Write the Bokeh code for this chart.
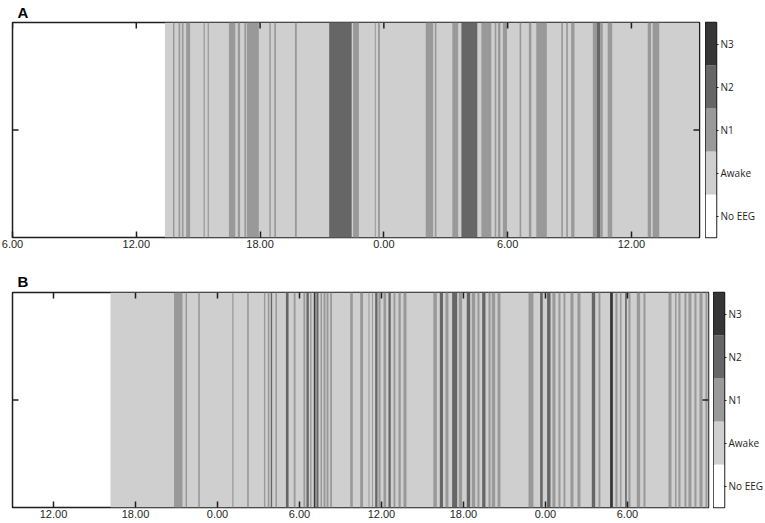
import math
from bokeh.plotting import figure
from bokeh.layouts import column, row
from bokeh.models import Range1d, FixedTicker, LinearAxis, ColumnDataSource
from bokeh.embed import file_html
from bokeh.resources import INLINE

# ---------------- data ----------------
STAGES = ["No EEG", "Awake", "N1", "N2", "N3"]
STAGE_COLORS = ["#ffffff", "#cfcfcf", "#999999", "#666666", "#363636"]

# Panel A (clock hours, continuous from day start)
A_X_RANGE = [6.0, 39.3]
A_TICKS = [6, 12, 18, 24, 30, 36]
A_TICK_LABELS = ["6.00", "12.00", "18.00", "0.00", "6.00", "12.00"]
A_RECORDING = [13.39, 39.26]          # EEG recorded (Awake baseline)
A_START = [13.78, 14.05, 14.21, 14.42, 15.26, 15.46, 16.49, 16.92, 17.24, 17.36,
           18.45, 18.69, 19.69, 21.35, 22.51, 23.56, 23.72, 26.03, 26.47, 27.32,
           27.76, 28.73, 29.37, 29.53, 29.77, 30.58, 31.03, 31.39, 32.60, 32.84,
           33.08, 34.13, 34.32, 34.49, 34.85, 36.79, 37.03]
A_END = [13.85, 14.13, 14.29, 14.61, 15.32, 15.52, 16.80, 17.03, 17.32, 17.94,
         18.52, 18.77, 19.78, 22.44, 22.79, 23.61, 23.81, 26.39, 26.55, 27.60,
         28.53, 29.21, 29.45, 29.65, 29.97, 30.66, 31.15, 31.90, 32.68, 32.92,
         33.24, 34.32, 34.49, 34.61, 35.07, 36.95, 37.35]
A_STAGE = ["N1", "N1", "N1", "N1", "N1", "N1", "N1", "N1", "N1", "N1",
           "N1", "N1", "N1", "N2", "N1", "N1", "N1", "N1", "N1", "N1",
           "N2", "N1", "N1", "N1", "N1", "N1", "N1", "N1", "N1", "N1",
           "N1", "N1", "N2", "N1", "N1", "N1", "N1"]

# Panel B
B_X_RANGE = [9.0, 59.93]
B_TICKS = [12, 18, 24, 30, 36, 42, 48, 54]
B_TICK_LABELS = ["12.00", "18.00", "0.00", "6.00", "12.00", "18.00", "0.00", "6.00"]
B_RECORDING = [16.17, 59.93]
B_START = [20.82, 21.66, 22.59, 25.08, 26.17, 27.40, 27.68, 27.90, 28.24, 29.01,
           29.58, 30.29, 30.51, 30.78, 31.05, 31.24, 31.54, 31.76, 31.98, 32.25,
           33.71, 34.44, 35.05, 35.31, 35.54, 35.78, 36.15, 36.51, 36.88, 37.24,
           37.61, 39.80, 40.27, 40.68, 41.17, 41.66, 42.24, 42.61, 43.02, 43.37,
           43.83, 44.07, 44.49, 46.76, 47.61, 48.12, 48.51, 48.95, 49.32, 49.83,
           50.34, 51.39, 51.88, 52.73, 53.12, 53.45, 53.83, 54.07, 54.68, 55.17,
           57.00, 57.48, 57.73, 58.17, 58.46, 58.90, 59.27, 59.71]
B_END = [21.44, 21.77, 22.71, 25.17, 26.29, 27.50, 27.80, 28.00, 28.35, 29.20,
         29.71, 30.42, 30.68, 30.88, 31.17, 31.39, 31.65, 31.90, 32.12, 32.38,
         33.90, 34.65, 35.12, 35.38, 35.71, 35.93, 36.34, 36.68, 37.02, 37.41,
         37.83, 40.05, 40.50, 40.90, 41.54, 41.90, 42.49, 42.86, 43.17, 43.61,
         43.98, 44.32, 44.71, 47.12, 47.80, 48.37, 48.73, 49.10, 49.46, 50.05,
         50.56, 51.64, 52.02, 52.93, 53.27, 53.56, 53.95, 54.22, 54.93, 55.32,
         57.22, 57.59, 57.88, 58.32, 58.68, 59.05, 59.49, 59.85]
B_STAGE = ["N1", "N1", "N1", "N1", "N1", "N1", "N1", "N2", "N1", "N2",
           "N1", "N1", "N2", "N1", "N3", "N2", "N1", "N1", "N1", "N1",
           "N1", "N1", "N1", "N1", "N2", "N1", "N1", "N2", "N1", "N1",
           "N1", "N1", "N2", "N1", "N2", "N1", "N2", "N1", "N1", "N2",
           "N1", "N1", "N1", "N1", "N2", "N2", "N1", "N1", "N1", "N1",
           "N1", "N2", "N1", "N3", "N1", "N1", "N2", "N1", "N1", "N1",
           "N1", "N1", "N1", "N1", "N1", "N1", "N1", "N1"]

INK = "#1e1e1e"
TICK_LEN = 6


def make_panel(letter, letter_standoff, xr, ticks, tick_labels, rec, starts, ends, stages,
               frame_w, frame_h, b_left, b_top, b_bottom, b_right):
    p = figure(frame_width=frame_w, frame_height=frame_h,
               x_range=Range1d(*xr), y_range=Range1d(0, 1),
               x_axis_location=None, y_axis_location=None,
               output_backend="svg", toolbar_location=None,
               min_border_left=b_left, min_border_right=b_right,
               min_border_top=b_top, min_border_bottom=b_bottom,
               title=letter)
    p.title.text_font = "Liberation Sans"
    p.title.text_font_style = "bold"
    p.title.text_font_size = "15px"
    p.title.text_color = "black"
    p.title.align = "left"
    p.title.offset = 5
    p.title.standoff = letter_standoff
    p.xgrid.visible = False
    p.ygrid.visible = False
    p.outline_line_color = INK
    p.outline_line_width = 1.5
    p.outline_line_alpha = 1.0
    p.background_fill_color = "white"
    p.border_fill_color = "white"

    # recorded period (Awake baseline)
    p.quad(left=[rec[0]], right=[rec[1]], bottom=0, top=1,
           fill_color=STAGE_COLORS[1], line_color=None)
    src = ColumnDataSource(dict(left=starts, right=ends,
                                color=[STAGE_COLORS[STAGES.index(s)] for s in stages]))
    p.quad(left="left", right="right", bottom=0, top=1, source=src,
           fill_color="color", line_color=None)

    # bottom axis with inward ticks
    bx = LinearAxis(ticker=FixedTicker(ticks=ticks),
                    major_label_overrides={t: l for t, l in zip(ticks, tick_labels)})
    bx.axis_line_color = None
    bx.major_tick_in = TICK_LEN
    bx.major_tick_out = 0
    bx.major_tick_line_color = INK
    bx.major_tick_line_width = 1.5
    bx.minor_tick_line_color = None
    bx.major_label_text_font = "Liberation Sans"
    bx.major_label_text_font_size = "11px"
    bx.major_label_text_color = INK
    bx.major_label_standoff = 2
    p.add_layout(bx, "below")

    # inward ticks on top, left and right edges
    p.ray(x=ticks, y=[1] * len(ticks), length=TICK_LEN, length_units="screen",
          angle=-math.pi / 2, line_color=INK, line_width=1.5)
    p.ray(x=[xr[0]], y=[0.5], length=TICK_LEN, length_units="screen",
          angle=0, line_color=INK, line_width=1.5)
    p.ray(x=[xr[1]], y=[0.5], length=TICK_LEN, length_units="screen",
          angle=math.pi, line_color=INK, line_width=1.5)

    cb = figure(frame_width=11, frame_height=frame_h,
                x_range=Range1d(0, 1), y_range=Range1d(0, len(STAGES)),
                x_axis_location=None, y_axis_location=None,
                output_backend="svg", toolbar_location=None,
                min_border_left=0, min_border_right=0,
                min_border_top=b_top, min_border_bottom=b_bottom)
    cb.xgrid.visible = False
    cb.ygrid.visible = False
    cb.outline_line_color = INK
    cb.outline_line_width = 1.5
    cb.outline_line_alpha = 1.0
    cb.quad(left=0, right=1, bottom=list(range(len(STAGES))),
            top=[i + 1 for i in range(len(STAGES))],
            fill_color=STAGE_COLORS, line_color=None)
    cticks = [i + 0.5 for i in range(len(STAGES))]
    ca = LinearAxis(ticker=FixedTicker(ticks=cticks),
                    major_label_overrides={t: s for t, s in zip(cticks, STAGES)})
    ca.axis_line_color = None
    ca.major_tick_in = 0
    ca.major_tick_out = 2
    ca.major_tick_line_color = INK
    ca.minor_tick_line_color = None
    ca.major_label_standoff = 2
    ca.major_label_text_font = "Open Sans"
    ca.major_label_text_font_size = "10px"
    ca.major_label_text_color = INK
    cb.add_layout(ca, "right")
    return row(p, cb)


panel_a = make_panel("A", 3, A_X_RANGE, A_TICKS, A_TICK_LABELS, A_RECORDING,
                     A_START, A_END, A_STAGE,
                     frame_w=687, frame_h=215, b_left=12, b_top=21, b_bottom=30, b_right=6)
panel_b = make_panel("B", 6, B_X_RANGE, B_TICKS, B_TICK_LABELS, B_RECORDING,
                     B_START, B_END, B_STAGE,
                     frame_w=696, frame_h=215, b_left=12, b_top=25, b_bottom=16, b_right=5)

layout = column(panel_a, panel_b)
open("out.html", "w").write(file_html(layout, INLINE))
